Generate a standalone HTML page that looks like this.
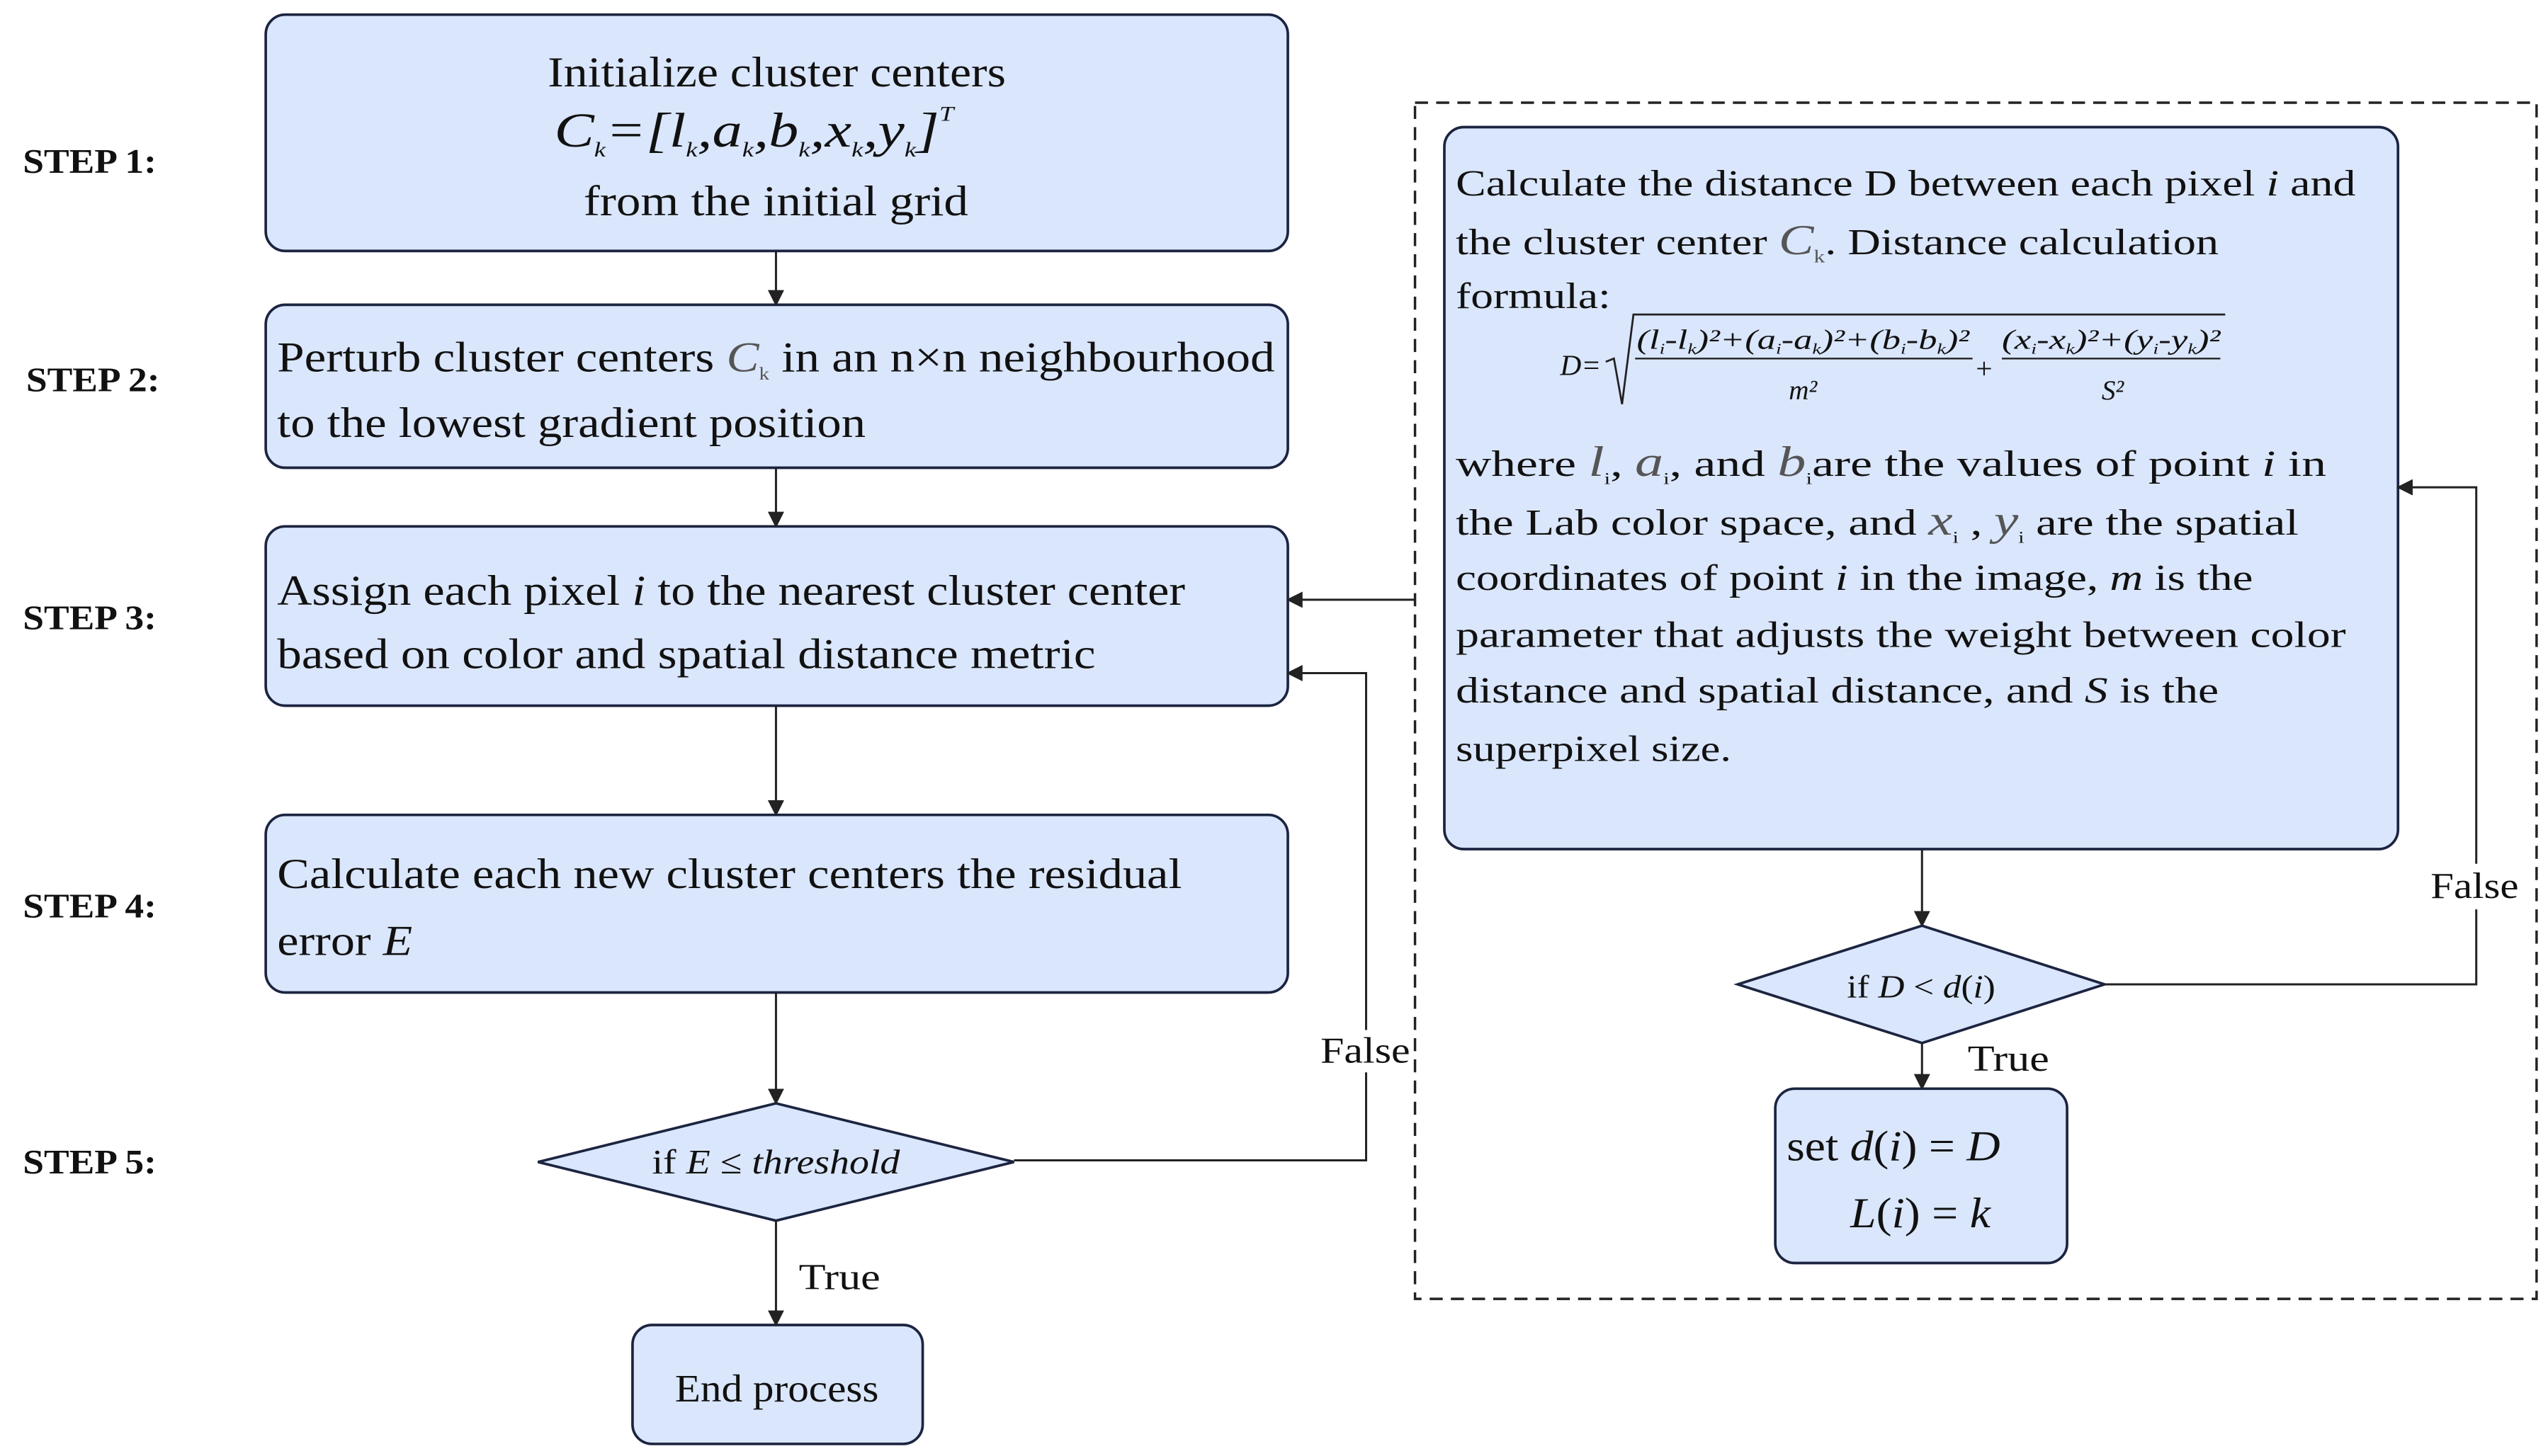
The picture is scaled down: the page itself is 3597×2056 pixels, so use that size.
<!DOCTYPE html>
<html><head><meta charset="utf-8"><style>
html,body{margin:0;padding:0;background:#fff;}
svg{display:block;}
text{font-family:"Liberation Serif",serif;fill:#111;}
.b{fill:#dae6fc;stroke:#1c2440;stroke-width:1.6;}
.l{stroke:#222;stroke-width:1.3;fill:none;}
.st{font-weight:bold;font-size:21px;}
.t{font-size:26px;}
.s{font-size:22.5px;}
</style></head><body>
<svg width="3597" height="2056" viewBox="0 0 1563 893.4" xmlns="http://www.w3.org/2000/svg">
<defs><marker id="a" markerWidth="10" markerHeight="10" refX="9" refY="5" orient="auto" markerUnits="userSpaceOnUse"><path d="M0,0 L10,5 L0,10 z" fill="#222"/></marker></defs>
<rect width="1563" height="893.4" fill="#fff"/>
<!-- step labels -->
<text class="st" x="14" y="106" textLength="82" lengthAdjust="spacingAndGlyphs">STEP 1:</text>
<text class="st" x="16" y="240" textLength="82" lengthAdjust="spacingAndGlyphs">STEP 2:</text>
<text class="st" x="14" y="386" textLength="82" lengthAdjust="spacingAndGlyphs">STEP 3:</text>
<text class="st" x="14" y="563" textLength="82" lengthAdjust="spacingAndGlyphs">STEP 4:</text>
<text class="st" x="14" y="720" textLength="82" lengthAdjust="spacingAndGlyphs">STEP 5:</text>
<!-- boxes left -->
<rect class="b" x="163" y="9" width="627" height="145" rx="12"/>
<text class="t" x="336" y="53" textLength="281" lengthAdjust="spacingAndGlyphs">Initialize cluster centers</text>
<text x="340" y="90" font-size="30" font-style="italic" textLength="245" lengthAdjust="spacingAndGlyphs">C<tspan font-size="13" dy="6">k</tspan><tspan dy="-6">=[</tspan>l<tspan font-size="13" dy="6">k</tspan><tspan dy="-6">,</tspan>a<tspan font-size="13" dy="6">k</tspan><tspan dy="-6">,</tspan>b<tspan font-size="13" dy="6">k</tspan><tspan dy="-6">,</tspan>x<tspan font-size="13" dy="6">k</tspan><tspan dy="-6">,</tspan>y<tspan font-size="13" dy="6">k</tspan><tspan dy="-6">]</tspan><tspan font-size="13" dy="-16">T</tspan></text>
<text class="t" x="358" y="132" textLength="236" lengthAdjust="spacingAndGlyphs">from the initial grid</text>
<rect class="b" x="163" y="187" width="627" height="100" rx="12"/>
<text class="t" x="170" y="228" textLength="612" lengthAdjust="spacingAndGlyphs">Perturb cluster centers <tspan font-style="italic" fill="#555">C</tspan><tspan font-size="11" dy="5" fill="#555">k</tspan><tspan dy="-5"> in an n×n neighbourhood</tspan></text>
<text class="t" x="170" y="268" textLength="361" lengthAdjust="spacingAndGlyphs">to the lowest gradient position</text>
<rect class="b" x="163" y="323" width="627" height="110" rx="12"/>
<text class="t" x="170" y="371" textLength="557" lengthAdjust="spacingAndGlyphs">Assign each pixel <tspan font-style="italic">i</tspan> to the nearest cluster center</text>
<text class="t" x="170" y="410" textLength="502" lengthAdjust="spacingAndGlyphs">based on color and spatial distance metric</text>
<rect class="b" x="163" y="500" width="627" height="109" rx="12"/>
<text class="t" x="170" y="545" textLength="555" lengthAdjust="spacingAndGlyphs">Calculate each new cluster centers the residual</text>
<text class="t" x="170" y="586" textLength="83" lengthAdjust="spacingAndGlyphs">error <tspan font-style="italic">E</tspan></text>
<polygon class="b" points="330,713 476,677 622,713 476,749"/>
<text x="400" y="720" font-size="21" textLength="152" lengthAdjust="spacingAndGlyphs">if <tspan font-style="italic">E</tspan> ≤ <tspan font-style="italic">threshold</tspan></text>
<rect class="b" x="388" y="813" width="178" height="73" rx="12"/>
<text x="414" y="860" font-size="24" textLength="125" lengthAdjust="spacingAndGlyphs">End process</text>
<!-- left arrows -->
<line class="l" x1="476" y1="154" x2="476" y2="187" marker-end="url(#a)"/>
<line class="l" x1="476" y1="287" x2="476" y2="323" marker-end="url(#a)"/>
<line class="l" x1="476" y1="433" x2="476" y2="500" marker-end="url(#a)"/>
<line class="l" x1="476" y1="609" x2="476" y2="677" marker-end="url(#a)"/>
<line class="l" x1="476" y1="749" x2="476" y2="813" marker-end="url(#a)"/>
<text class="s" x="490" y="791" textLength="50" lengthAdjust="spacingAndGlyphs">True</text>
<polyline class="l" points="622,712 838,712 838,413 790,413" marker-end="url(#a)"/>
<rect x="808" y="632" width="60" height="26" fill="#fff"/>
<text class="s" x="810" y="652" textLength="55" lengthAdjust="spacingAndGlyphs">False</text>
<!-- dashed region -->
<rect x="868" y="63" width="688" height="734" fill="none" stroke="#222" stroke-width="1.5" stroke-dasharray="8,5"/>
<line class="l" x1="868" y1="368" x2="790" y2="368" marker-end="url(#a)"/>
<rect class="b" x="886" y="78" width="585" height="443" rx="12"/>
<text class="s" x="893" y="120" textLength="552" lengthAdjust="spacingAndGlyphs">Calculate the distance D between each pixel <tspan font-style="italic">i</tspan> and</text>
<text class="s" x="893" y="156" textLength="468" lengthAdjust="spacingAndGlyphs">the cluster center <tspan font-style="italic" font-size="26" fill="#555">C</tspan><tspan font-size="11" dy="5" fill="#555">k</tspan><tspan dy="-5">. Distance calculation</tspan></text>
<text class="s" x="893" y="189" textLength="95" lengthAdjust="spacingAndGlyphs">formula:</text>
<text class="s" x="893" y="292" textLength="534" lengthAdjust="spacingAndGlyphs">where  <tspan font-style="italic" fill="#555" font-size="26">l</tspan><tspan font-size="10" dy="5">i</tspan><tspan dy="-5">, </tspan><tspan font-style="italic" fill="#555" font-size="26">a</tspan><tspan font-size="10" dy="5">i</tspan><tspan dy="-5">, and  </tspan><tspan font-style="italic" fill="#555" font-size="26">b</tspan><tspan font-size="10" dy="5">i</tspan><tspan dy="-5">are the values of point </tspan><tspan font-style="italic">i</tspan> in</text>
<text class="s" x="893" y="328" textLength="517" lengthAdjust="spacingAndGlyphs">the Lab color space, and <tspan font-style="italic" fill="#555" font-size="26">x</tspan><tspan font-size="10" dy="5">i</tspan><tspan dy="-5">  , </tspan><tspan font-style="italic" fill="#555" font-size="26">y</tspan><tspan font-size="10" dy="5">i</tspan><tspan dy="-5"> are the spatial</tspan></text>
<text class="s" x="893" y="362" textLength="489" lengthAdjust="spacingAndGlyphs">coordinates of point <tspan font-style="italic">i</tspan> in the image, <tspan font-style="italic">m</tspan> is the</text>
<text class="s" x="893" y="397" textLength="546" lengthAdjust="spacingAndGlyphs">parameter that adjusts the weight between color</text>
<text class="s" x="893" y="431" textLength="468" lengthAdjust="spacingAndGlyphs">distance and spatial distance, and <tspan font-style="italic">S</tspan> is the</text>
<text class="s" x="893" y="467" textLength="169" lengthAdjust="spacingAndGlyphs">superpixel size.</text>
<!-- formula -->
<text x="957" y="230" font-size="18" font-style="italic">D=</text>
<polyline points="985,222 990,220 995,248 1002,193 1365,193" fill="none" stroke="#222" stroke-width="1.2"/>
<text x="1004" y="214" font-size="17" font-style="italic" textLength="204" lengthAdjust="spacingAndGlyphs">(l<tspan font-size="9" dy="3">i</tspan><tspan dy="-3">-l</tspan><tspan font-size="9" dy="3">k</tspan><tspan dy="-3">)²+(a</tspan><tspan font-size="9" dy="3">i</tspan><tspan dy="-3">-a</tspan><tspan font-size="9" dy="3">k</tspan><tspan dy="-3">)²+(b</tspan><tspan font-size="9" dy="3">i</tspan><tspan dy="-3">-b</tspan><tspan font-size="9" dy="3">k</tspan><tspan dy="-3">)²</tspan></text>
<line x1="1003" y1="220" x2="1210" y2="220" stroke="#222" stroke-width="1"/>
<text x="1106" y="245" font-size="17" font-style="italic" text-anchor="middle">m²</text>
<text x="1212" y="232" font-size="18">+</text>
<text x="1228" y="214" font-size="17" font-style="italic" textLength="134" lengthAdjust="spacingAndGlyphs">(x<tspan font-size="9" dy="3">i</tspan><tspan dy="-3">-x</tspan><tspan font-size="9" dy="3">k</tspan><tspan dy="-3">)²+(y</tspan><tspan font-size="9" dy="3">i</tspan><tspan dy="-3">-y</tspan><tspan font-size="9" dy="3">k</tspan><tspan dy="-3">)²</tspan></text>
<line x1="1228" y1="220" x2="1362" y2="220" stroke="#222" stroke-width="1"/>
<text x="1296" y="245" font-size="17" font-style="italic" text-anchor="middle">S²</text>
<!-- right flow -->
<line class="l" x1="1179" y1="521" x2="1179" y2="568" marker-end="url(#a)"/>
<polygon class="b" points="1066,604 1179,568 1291,604 1179,640"/>
<text x="1133" y="612" font-size="20" textLength="91" lengthAdjust="spacingAndGlyphs">if <tspan font-style="italic">D</tspan> &lt; <tspan font-style="italic">d</tspan>(<tspan font-style="italic">i</tspan>)</text>
<polyline class="l" points="1291,604 1519,604 1519,299 1471,299" marker-end="url(#a)"/>
<rect x="1489" y="530" width="60" height="28" fill="#fff"/>
<text class="s" x="1491" y="551" textLength="54" lengthAdjust="spacingAndGlyphs">False</text>
<line class="l" x1="1179" y1="640" x2="1179" y2="668" marker-end="url(#a)"/>
<text class="s" x="1207" y="657" textLength="50" lengthAdjust="spacingAndGlyphs">True</text>
<rect class="b" x="1089" y="668" width="179" height="107" rx="12"/>
<text x="1096" y="712" font-size="26" textLength="131" lengthAdjust="spacingAndGlyphs">set <tspan font-style="italic">d</tspan>(<tspan font-style="italic">i</tspan>) = <tspan font-style="italic">D</tspan></text>
<text x="1135" y="753" font-size="26" textLength="86" lengthAdjust="spacingAndGlyphs"><tspan font-style="italic">L</tspan>(<tspan font-style="italic">i</tspan>) = <tspan font-style="italic">k</tspan></text>
</svg>
</body></html>
